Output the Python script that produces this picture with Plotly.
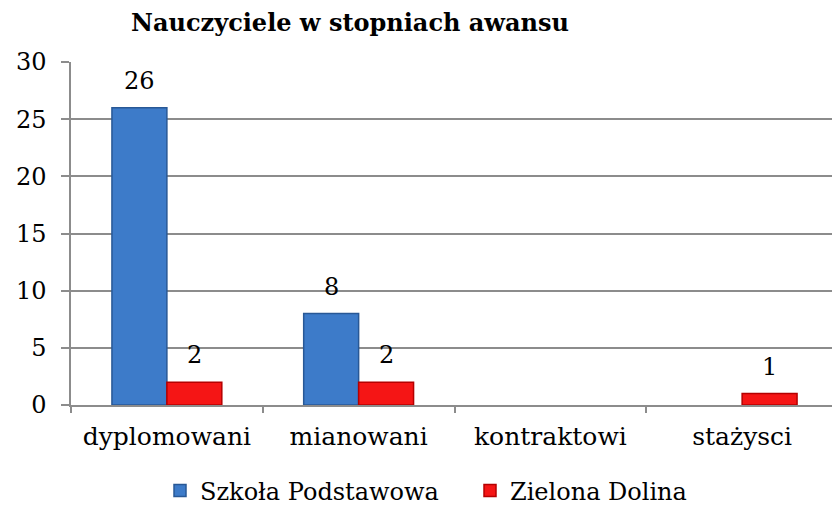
import plotly.graph_objects as go

categories = ["dyplomowani", "mianowani", "kontraktowi", "stażysci"]
szkola = [26, 8, 0, 0]
zielona = [2, 2, 0, 1]
series_names = ["Szkoła Podstawowa", "Zielona Dolina"]
title_text = "Nauczyciele w stopniach awansu"
y_ticks = [0, 5, 10, 15, 20, 25, 30]

FONT = "DejaVu Serif"
OFF = 8  # page body margin offset

L, R, T, B = 71, 838, 62, 405
BARGAP = 0.427
cat_w = (R - L) / len(categories)
bar_w = cat_w * (1 - BARGAP) / 2


def line_widths(vals):
    return [1.5 if v else 0 for v in vals]


fig = go.Figure()
fig.add_trace(go.Bar(
    x=categories, y=szkola, name=series_names[0],
    marker=dict(color="#3d7bc9", line=dict(color="#285896", width=line_widths(szkola))),
))
fig.add_trace(go.Bar(
    x=categories, y=zielona, name=series_names[1],
    marker=dict(color="#f51515", line=dict(color="#b50000", width=line_widths(zielona))),
))

# value labels above nonzero bars
for vals, sign in ((szkola, -1), (zielona, 1)):
    for c, v in zip(categories, vals):
        if v:
            fig.add_annotation(x=c, y=v, text=str(v), showarrow=False,
                               xanchor="center", yanchor="bottom",
                               xshift=sign * bar_w / 2, yshift=11,
                               font=dict(family=FONT, size=24, color="black"))

fig.update_layout(
    width=840, height=506,
    margin=dict(l=L - OFF, r=840 - R + OFF, t=T - OFF, b=506 - B + OFF),
    paper_bgcolor="white", plot_bgcolor="white",
    barmode="group", bargap=BARGAP, bargroupgap=0,
    font=dict(family=FONT, size=24, color="black"),
    title=dict(text="<b>" + title_text + "</b>", x=(350 - OFF) / 840, xanchor="center",
               y=1 - (23 - OFF) / 506, yanchor="middle",
               font=dict(family=FONT, size=24, color="black")),
    showlegend=True,
    legend=dict(orientation="h", xref="paper", x=(160 - L) / (R - L), xanchor="left",
                yref="container", y=1 - (491 - OFF) / 506, yanchor="middle",
                font=dict(family=FONT, size=24, color="black"),
                itemwidth=30, entrywidth=265, entrywidthmode="pixels",
                traceorder="normal"),
)
fig.update_yaxes(
    range=[0, 30], tickvals=y_ticks, showgrid=True, gridcolor="#8c8c8c", gridwidth=1.5,
    showline=True, linecolor="#8c8c8c", linewidth=1.5,
    ticks="outside", ticklen=8, tickcolor="#8c8c8c", tickwidth=1.5, ticklabelstandoff=10,
    tickfont=dict(family=FONT, size=24, color="black"), zeroline=False, automargin=False,
)
fig.update_xaxes(
    showline=True, linecolor="#8c8c8c", linewidth=1.5,
    ticks="outside", tickson="boundaries", ticklen=6, tickcolor="#8c8c8c", tickwidth=1.5,
    ticklabelstandoff=8,
    tickfont=dict(family=FONT, size=25, color="black"), automargin=False,
)

fig.write_html("out.html")
